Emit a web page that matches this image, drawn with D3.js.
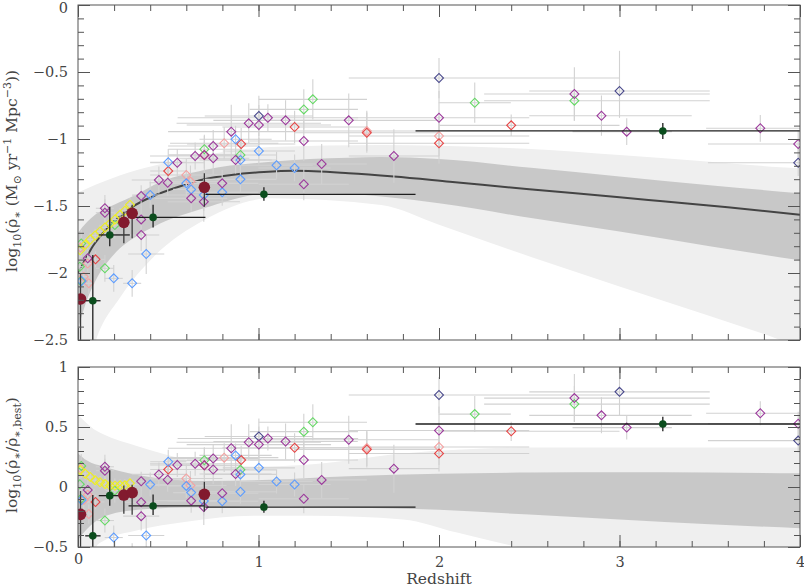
<!DOCTYPE html>
<html>
<head>
<meta charset="utf-8">
<script src="https://cdn.jsdelivr.net/npm/d3@7"></script>
<style>
body { margin: 0; background: #fff; }
text { font-family: "DejaVu Serif", serif; }
</style>
</head>
<body>
<script>
var width = 804,
    height = 588;

// best fit of the star formation history
var fitZ   = [0, 0.014, 0.05, 0.082, 0.13, 0.176, 0.254, 0.30, 0.416, 0.55, 0.70, 0.85, 1.03, 1.2, 1.5, 1.75, 2.06, 2.5, 3.0, 3.24, 3.6, 4.0];
var fitLog = [-2.00, -1.966, -1.875, -1.80, -1.715, -1.644, -1.555, -1.508, -1.427, -1.36, -1.30, -1.268, -1.246, -1.237, -1.255, -1.28, -1.319, -1.375, -1.435, -1.465, -1.51, -1.565];

// confidence bands: [z, low, high]
var topOuter = [[0, -3.0, -1.40], [0.1, -2.5, -1.34], [0.235, -2.18, -1.27], [0.42, -1.878, -1.20], [0.7, -1.604, -1.12],
                [1.066, -1.443, -1.06], [1.68, -1.493, -1.045], [2.0, -1.64, -1.05], [2.51, -1.88, -1.075], [3.0, -2.10, -1.12],
                [3.5, -2.32, -1.17], [3.89, -2.5, -1.21], [4.0, -2.56, -1.219]];
var topInner = [[0, -2.42, -1.70], [0.05, -2.2, -1.62], [0.1, -2.05, -1.56], [0.2, -1.86, -1.49], [0.33, -1.72, -1.41],
                [0.42, -1.654, -1.343], [0.7, -1.515, -1.231], [1.07, -1.405, -1.169], [1.5, -1.41, -1.14], [1.68, -1.43, -1.135],
                [2.0, -1.48, -1.15], [2.51, -1.59, -1.215], [3.0, -1.69, -1.28], [3.5, -1.80, -1.345], [4.0, -1.905, -1.405]];
var botOuter = [[0, -0.9, 0.60], [0.05, -0.7, 0.53], [0.1, -0.5, 0.47], [0.14, -0.45, 0.44], [0.33, -0.36, 0.34],
                [0.6, -0.29, 0.23], [0.97, -0.24, 0.17], [1.3, -0.24, 0.19], [1.8, -0.27, 0.28], [2.1, -0.38, 0.31],
                [2.5, -0.52, 0.33], [3.0, -0.65, 0.33], [4.0, -0.95, 0.33]];
var botInner = [[0, -0.44, 0.28], [0.05, -0.35, 0.22], [0.14, -0.25, 0.17], [0.33, -0.19, 0.10], [0.7, -0.165, 0.05],
                [1.07, -0.16, 0.06], [1.5, -0.17, 0.09], [2.0, -0.19, 0.11], [2.5, -0.23, 0.12], [3.0, -0.27, 0.122],
                [3.5, -0.31, 0.12], [4.0, -0.344, 0.115]];

// compiled measurements: [z, log sfrd, z err -, z err +, log err -, log err +]
var purplePts = [[0.054, -1.89, 0.03, 0.04, 0.08, 0.08], [0.149, -1.517, 0.05, 0.05, 0.1, 0.1], [0.149, -1.55, 0.05, 0.05, 0.1, 0.1],
  [0.35, -1.425, 0.05, 0.05, 0.08, 0.08], [0.35, -1.60, 0.1, 0.1, 0.1, 0.1], [0.35, -1.716, 0.1, 0.1, 0.12, 0.12],
  [0.448, -1.306, 0.15, 0.15, 0.1, 0.1], [0.497, -1.326, 0.1, 0.1, 0.1, 0.1], [0.55, -1.177, 0.15, 0.15, 0.1, 0.1],
  [0.627, -1.443, 0.2, 0.2, 0.1, 0.1], [0.649, -1.127, 0.25, 0.25, 0.1, 0.1], [0.70, -1.119, 0.2, 0.2, 0.15, 0.15],
  [0.749, -1.052, 0.25, 0.25, 0.12, 0.12], [0.749, -1.144, 0.2, 0.2, 0.12, 0.12], [0.697, -1.468, 0.2, 0.2, 0.15, 0.15],
  [0.799, -1.331, 0.2, 0.2, 0.1, 0.1], [0.849, -0.945, 0.35, 0.35, 0.2, 0.2], [0.873, -1.157, 0.2, 0.2, 0.1, 0.1],
  [0.946, -0.883, 0.4, 0.4, 0.15, 0.15], [1.002, -0.896, 0.4, 0.4, 0.15, 0.15], [1.052, -0.841, 0.5, 0.5, 0.1, 0.1],
  [1.15, -0.861, 0.4, 0.4, 0.15, 0.15], [1.251, -1.015, 0.3, 0.3, 0.15, 0.15], [1.251, -1.338, 0.25, 0.25, 0.12, 0.12],
  [1.35, -1.187, 0.25, 0.25, 0.15, 0.15], [1.50, -0.861, 0.5, 0.5, 0.2, 0.2], [1.75, -1.127, 0.25, 0.25, 0.2, 0.2],
  [2.0, -0.841, 0.5, 0.5, 0.2, 0.2], [2.75, -0.664, 0.5, 0.75, 0.2, 0.2], [2.90, -0.826, 0.4, 0.5, 0.15, 0.15],
  [3.04, -0.945, 0.3, 0.25, 0.1, 0.1], [3.78, -0.92, 0.3, 0.22, 0.1, 0.1], [3.99, -1.037, 0.5, 0.5, 0.1, 0.1]];
var bluePts = [[0.02, -2.06, 0.02, 0.02, 0.1, 0.1], [0.198, -2.04, 0.05, 0.05, 0.1, 0.1], [0.30, -2.077, 0.05, 0.05, 0.1, 0.1],
  [0.378, -1.858, 0.1, 0.1, 0.15, 0.15], [0.40, -1.418, 0.1, 0.1, 0.1, 0.1], [0.50, -1.174, 0.1, 0.1, 0.1, 0.1],
  [0.60, -1.331, 0.1, 0.1, 0.1, 0.1], [0.627, -1.376, 0.1, 0.1, 0.1, 0.1], [0.697, -1.418, 0.2, 0.2, 0.12, 0.12],
  [0.799, -1.398, 0.2, 0.2, 0.1, 0.1], [0.873, -1.002, 0.2, 0.2, 0.1, 0.1], [0.90, -1.157, 0.2, 0.2, 0.1, 0.1],
  [0.90, -1.301, 0.2, 0.2, 0.1, 0.1], [1.002, -1.09, 0.2, 0.2, 0.1, 0.1], [1.10, -1.196, 0.2, 0.2, 0.1, 0.1],
  [1.20, -1.216, 0.2, 0.2, 0.1, 0.1]];
var redPts = [[0.097, -1.898, 0.05, 0.05, 0.06, 0.06], [0.50, -1.239, 0.1, 0.1, 0.1, 0.1], [0.70, -1.119, 0.2, 0.2, 0.1, 0.1],
  [0.904, -1.037, 0.3, 0.3, 0.12, 0.12], [1.20, -0.91, 0.4, 0.4, 0.12, 0.12], [1.60, -0.953, 0.4, 0.4, 0.15, 0.15],
  [2.0, -1.032, 0.5, 0.5, 0.15, 0.15], [2.4, -0.898, 0.4, 0.6, 0.08, 0.08]];
var pinkPts = [[0.014, -1.81, 0.01, 0.02, 0.06, 0.06], [0.032, -2.028, 0.02, 0.02, 0.08, 0.08], [0.06, -2.077, 0.03, 0.03, 0.08, 0.08],
  [0.054, -1.93, 0.03, 0.03, 0.06, 0.06], [0.60, -1.269, 0.2, 0.2, 0.12, 0.12], [0.623, -1.318, 0.2, 0.2, 0.12, 0.12],
  [0.81, -1.032, 0.3, 0.3, 0.12, 0.12], [1.60, -0.94, 0.4, 0.4, 0.15, 0.15], [2.0, -0.978, 0.5, 0.5, 0.15, 0.15]];
var greenPts = [[0.018, -1.78, 0.01, 0.02, 0.1, 0.1], [0.01, -1.953, 0.01, 0.02, 0.1, 0.1], [0.016, -2.06, 0.01, 0.02, 0.1, 0.1],
  [0.149, -1.965, 0.05, 0.05, 0.1, 0.1], [0.204, -1.642, 0.05, 0.05, 0.1, 0.1], [0.70, -1.077, 0.2, 0.2, 0.1, 0.1],
  [0.90, -1.119, 0.2, 0.2, 0.1, 0.1], [1.251, -0.779, 0.3, 0.3, 0.15, 0.15], [1.301, -0.704, 0.3, 0.3, 0.15, 0.15],
  [2.198, -0.729, 0.2, 0.2, 0.15, 0.15], [2.75, -0.714, 0.5, 0.75, 0.15, 0.15]];
var navyPts = [[1.002, -0.828, 0.3, 0.3, 0.15, 0.15], [2.0, -0.545, 0.5, 1.0, 0.15, 0.15], [3.0, -0.642, 0.5, 0.5, 0.2, 0.3],
  [3.99, -1.177, 0.5, 0.5, 0.1, 0.1]];
var yellowPts = [[0.012, -1.83, 0.015, 0.015, 0.05, 0.05], [0.04, -1.79, 0.015, 0.015, 0.05, 0.05], [0.068, -1.75, 0.015, 0.015, 0.05, 0.05],
  [0.095, -1.72, 0.015, 0.015, 0.05, 0.05], [0.122, -1.69, 0.015, 0.015, 0.05, 0.05], [0.15, -1.66, 0.015, 0.015, 0.05, 0.05],
  [0.178, -1.63, 0.015, 0.015, 0.05, 0.05], [0.205, -1.60, 0.015, 0.015, 0.05, 0.05], [0.233, -1.565, 0.015, 0.015, 0.05, 0.05],
  [0.26, -1.535, 0.015, 0.015, 0.05, 0.05], [0.288, -1.49, 0.015, 0.015, 0.05, 0.05]];

// binned estimates: [z, log sfrd, z min, z max, log min, log max]
var binPts = [[0.082, -2.207, 0.04, 0.125, -2.7, -1.866], [0.176, -1.716, 0.115, 0.287, -1.80, -1.505],
  [0.416, -1.585, 0.28, 0.706, -1.66, -1.49], [1.03, -1.413, 0.706, 1.87, -1.46, -1.36], [3.24, -0.94, 1.87, 4.0, -1.0, -0.88]];
// local estimates: [z, log sfrd, log min, log max]
var localPts = [[0.014, -2.194, -2.55, -2.0], [0.254, -1.622, -1.778, -1.542], [0.30, -1.555, -1.74, -1.49], [0.70, -1.361, -1.505, -1.256]];

var surveys = [
  {pts: pinkPts, color: "#f4a2a2"},
  {pts: redPts, color: "#e64646"},
  {pts: greenPts, color: "#66d866"},
  {pts: bluePts, color: "#5c9cff"},
  {pts: navyPts, color: "#4a4a8c"},
  {pts: purplePts, color: "#9c3a9c"},
  {pts: yellowPts, color: "#eeee22"}
];

var svg = d3.select("body").append("svg")
    .attr("width", width)
    .attr("height", height);

var x = d3.scaleLinear().domain([0, 4]).range([78, 800]);
var yTop = d3.scaleLinear().domain([-2.5, 0]).range([340, 5]);
var yBot = d3.scaleLinear().domain([-0.5, 1]).range([547, 367]);
var fit = d3.scaleLinear().domain(fitZ).range(fitLog);

var diamond = d3.symbol().type(d3.symbolSquare).size(40);

function drawPanel(y, residual, outer, inner, id) {
  var y0 = y.range()[1], y1 = y.range()[0];
  var off = function(z) { return residual ? fit(z) : 0; };

  svg.append("clipPath").attr("id", id)
    .append("rect")
      .attr("x", x(0)).attr("y", y0)
      .attr("width", x(4) - x(0)).attr("height", y1 - y0);

  var g = svg.append("g").attr("clip-path", "url(#" + id + ")");

  var area = d3.area()
      .x(function(d) { return x(d[0]); })
      .y0(function(d) { return y(d[1]); })
      .y1(function(d) { return y(d[2]); })
      .curve(d3.curveMonotoneX);

  g.append("path").datum(outer).attr("d", area).attr("fill", "#efefef");
  g.append("path").datum(inner).attr("d", area).attr("fill", "#c8c8c8");

  if (!residual) {
    g.append("path")
        .datum(d3.zip(fitZ, fitLog))
        .attr("d", d3.line()
            .x(function(d) { return x(d[0]); })
            .y(function(d) { return y(d[1]); })
            .curve(d3.curveMonotoneX))
        .attr("fill", "none")
        .attr("stroke", "#444")
        .attr("stroke-width", 2);
  }

  // grey error bars of the compiled points
  surveys.forEach(function(s) {
    var e = g.append("g").attr("stroke", "#d2d2d2").attr("stroke-width", 1.1);
    e.selectAll(".xe").data(s.pts).enter().append("line")
        .attr("x1", function(d) { return x(d[0] - d[2]); })
        .attr("x2", function(d) { return x(d[0] + d[3]); })
        .attr("y1", function(d) { return y(d[1] - off(d[0])); })
        .attr("y2", function(d) { return y(d[1] - off(d[0])); });
    e.selectAll(".ye").data(s.pts).enter().append("line")
        .attr("x1", function(d) { return x(d[0]); })
        .attr("x2", function(d) { return x(d[0]); })
        .attr("y1", function(d) { return y(d[1] - d[4] - off(d[0])); })
        .attr("y2", function(d) { return y(d[1] + d[5] - off(d[0])); });
  });

  surveys.forEach(function(s) {
    g.append("g").selectAll("path").data(s.pts).enter().append("path")
        .attr("d", diamond)
        .attr("transform", function(d) {
          return "translate(" + x(d[0]) + "," + y(d[1] - off(d[0])) + ") rotate(45)";
        })
        .attr("fill", "none")
        .attr("stroke", s.color)
        .attr("stroke-width", 1.1);
  });

  // binned points with black bars
  var b = g.append("g").attr("stroke", "#1e1e1e").attr("stroke-width", 1.3);
  b.selectAll(".bx").data(binPts).enter().append("line")
      .attr("x1", function(d) { return x(d[2]); })
      .attr("x2", function(d) { return x(d[3]); })
      .attr("y1", function(d) { return y(d[1] - off(d[0])); })
      .attr("y2", function(d) { return y(d[1] - off(d[0])); });
  b.selectAll(".by").data(binPts).enter().append("line")
      .attr("x1", function(d) { return x(d[0]); })
      .attr("x2", function(d) { return x(d[0]); })
      .attr("y1", function(d) { return y(d[4] - off(d[0])); })
      .attr("y2", function(d) { return y(d[5] - off(d[0])); });
  g.append("g").selectAll("circle").data(binPts).enter().append("circle")
      .attr("cx", function(d) { return x(d[0]); })
      .attr("cy", function(d) { return y(d[1] - off(d[0])); })
      .attr("r", 3.8)
      .attr("fill", "#0b4d1d");

  g.append("g").attr("stroke", "#3a3a3a").attr("stroke-width", 1.3)
    .selectAll("line").data(localPts).enter().append("line")
      .attr("x1", function(d) { return x(d[0]); })
      .attr("x2", function(d) { return x(d[0]); })
      .attr("y1", function(d) { return y(d[2] - off(d[0])); })
      .attr("y2", function(d) { return y(d[3] - off(d[0])); });
  g.append("g").selectAll("circle").data(localPts).enter().append("circle")
      .attr("cx", function(d) { return x(d[0]); })
      .attr("cy", function(d) { return y(d[1] - off(d[0])); })
      .attr("r", 5.8)
      .attr("fill", "#821a2e");

  // frame and inward ticks
  var fmt = d3.format("");
  var yMajor = d3.range(y.domain()[0], y.domain()[1] + 0.01, 0.5);
  var yMinor = d3.range(y.domain()[0], y.domain()[1] + 0.01, 0.1);
  var xMajor = d3.range(0, 4.01, 1);
  var xMinor = d3.range(0, 4.01, 0.2);

  function style(a) {
    a.select(".domain").remove();
    a.selectAll("line").attr("stroke", "#555");
    a.selectAll("text")
        .style("font-family", "'DejaVu Serif', serif")
        .style("font-size", "14.5px")
        .attr("fill", "#444");
  }

  svg.append("g").attr("transform", "translate(" + x(0) + ",0)")
      .call(d3.axisLeft(y).tickValues(yMinor).tickSize(-6).tickFormat(""))
      .call(style);
  svg.append("g").attr("transform", "translate(" + x(0) + ",0)")
      .call(d3.axisLeft(y).tickValues(yMajor).tickSize(-12).tickPadding(10).tickFormat(fmt))
      .call(style);
  svg.append("g").attr("transform", "translate(" + x(4) + ",0)")
      .call(d3.axisRight(y).tickValues(yMinor).tickSize(-6).tickFormat(""))
      .call(style);
  svg.append("g").attr("transform", "translate(" + x(4) + ",0)")
      .call(d3.axisRight(y).tickValues(yMajor).tickSize(-12).tickFormat(""))
      .call(style);

  svg.append("g").attr("transform", "translate(0," + y0 + ")")
      .call(d3.axisTop(x).tickValues(xMinor).tickSize(-6).tickFormat(""))
      .call(style);
  svg.append("g").attr("transform", "translate(0," + y0 + ")")
      .call(d3.axisTop(x).tickValues(xMajor).tickSize(-12).tickFormat(""))
      .call(style);
  svg.append("g").attr("transform", "translate(0," + y1 + ")")
      .call(d3.axisBottom(x).tickValues(xMinor).tickSize(-6).tickFormat(""))
      .call(style);
  svg.append("g").attr("transform", "translate(0," + y1 + ")")
      .call(d3.axisBottom(x).tickValues(xMajor).tickSize(-12).tickPadding(10)
          .tickFormat(residual ? fmt : ""))
      .call(style);

  svg.append("rect")
      .attr("x", x(0)).attr("y", y0)
      .attr("width", x(4) - x(0)).attr("height", y1 - y0)
      .attr("fill", "none")
      .attr("stroke", "#555")
      .attr("stroke-width", 1);
}

drawPanel(yTop, false, topOuter, topInner, "clipTop");
drawPanel(yBot, true, botOuter, botInner, "clipBot");

// the top "0" label sits on the frame edge; keep it inside the page
svg.selectAll("g text").filter(function() { return this.textContent === "0" && +this.parentNode.getAttribute("transform").match(/,([\d.]+)/)[1] < 10; })
    .attr("dy", "0.5em");

// axis titles
svg.append("text")
    .attr("x", x(2)).attr("y", 584)
    .attr("text-anchor", "middle")
    .attr("fill", "#444")
    .style("font-size", "15.5px")
    .text("Redshift");

// parts: [text, dy, small]
function title(cx, cy, parts) {
  var t = svg.append("text")
      .attr("transform", "translate(" + cx + "," + cy + ") rotate(-90)")
      .attr("text-anchor", "middle")
      .attr("fill", "#444")
      .style("font-size", "15.5px");
  parts.forEach(function(p) {
    var s = t.append("tspan").text(p[0]);
    if (p[1]) s.attr("dy", p[1]);
    if (p[2]) s.style("font-size", "11px");
  });
}

title(17, 171, [["log", 0, false], ["10", 4, true], ["(ρ̇", -4, false], ["∗", 4, true], [" (M", -4, false], ["⊙", 4, true],
  [" yr", -4, false], ["−1", -6, true], [" Mpc", 6, false], ["−3", -6, true], ["))", 6, false]]);
title(17, 455, [["log", 0, false], ["10", 4, true], ["(ρ̇", -4, false], ["∗", 4, true], ["/ρ̇", -4, false], ["∗,best", 4, true],
  [")", -4, false]]);
</script>
</body>
</html>
